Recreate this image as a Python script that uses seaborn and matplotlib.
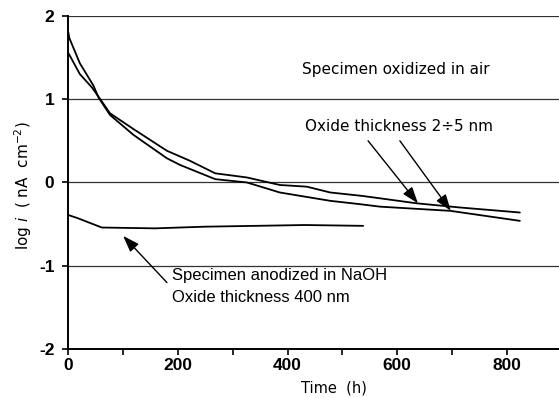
import numpy as np
import pandas as pd
import matplotlib
matplotlib.use("Agg")
import matplotlib.pyplot as plt
import seaborn as sns

# curves (time in h, log i)
time_a = [0, 2, 21, 46, 55, 76, 119, 180, 204, 268, 326, 386, 478, 532, 569, 697, 824]
logi_a = [1.80, 1.73, 1.43, 1.16, 1.02, 0.81, 0.57, 0.29, 0.21, 0.04, 0.00, -0.12, -0.22, -0.26, -0.29, -0.34, -0.46]

time_b = [0, 2, 21, 43, 55, 76, 119, 180, 222, 268, 326, 386, 435, 478, 535, 569, 636, 715, 824]
logi_b = [1.55, 1.53, 1.30, 1.14, 1.03, 0.83, 0.64, 0.38, 0.26, 0.11, 0.06, -0.03, -0.05, -0.12, -0.16, -0.19, -0.25, -0.30, -0.36]

time_naoh = [0, 18, 61, 158, 249, 341, 432, 538]
logi_naoh = [-0.39, -0.43, -0.54, -0.55, -0.53, -0.52, -0.51, -0.52]

x_ticks = [0, 200, 400, 600, 800]
y_ticks = [-2, -1, 0, 1, 2]

sns.set_style("white")
plt.rcParams['font.family'] = ['DejaVu Sans']
plt.rcParams['axes.unicode_minus'] = False
plt.rcParams['text.color'] = 'black'
plt.rcParams['axes.labelcolor'] = 'black'
plt.rcParams['xtick.color'] = 'black'
plt.rcParams['ytick.color'] = 'black'

fig = plt.figure(figsize=(5.59, 3.98), dpi=100)
ax = fig.add_axes([0.1222, 0.1224, 0.8778, 0.8382])

for t, v in [(time_a, logi_a), (time_b, logi_b), (time_naoh, logi_naoh)]:
    df = pd.DataFrame({"Time": t, "logi": v})
    sns.lineplot(data=df, x="Time", y="logi", color="black", linewidth=1.3, ax=ax)

ax.set_xlim(0, 895.4)
ax.set_ylim(-2, 2)
for yv in [-1, 0, 1, 2]:
    ax.axhline(yv, color="#333333", linewidth=0.9, zorder=0)

ax.set_xticks(x_ticks)
ax.set_xticks(np.arange(100, 900, 200), minor=True)
ax.set_yticks(y_ticks)
ax.tick_params(axis="both", which="both", direction="out", length=4, width=1.2,
               color="black", bottom=True, left=True)
ax.tick_params(axis="x", pad=2)
ax.tick_params(axis="y", pad=6)
for lab in ax.get_xticklabels() + ax.get_yticklabels():
    lab.set_fontfamily("Liberation Sans")
    lab.set_fontweight("bold")
    lab.set_fontsize(12.5)

for s in ["top", "right"]:
    ax.spines[s].set_visible(False)
for s in ["left", "bottom"]:
    ax.spines[s].set_color("black")
    ax.spines[s].set_linewidth(1.4)

ax.set_xlabel("Time  (h)", fontsize=10.5, va="center")
ax.xaxis.set_label_coords(0.541, -0.115)
ax.set_ylabel("log $\\mathit{i}$  ( nA  cm$^{-2}$)", fontsize=11, va="center")
ax.yaxis.set_label_coords(-0.092, 0.49)

ax.text(426, 1.355, "Specimen oxidized in air", fontsize=11, va="center", ha="left")
ax.text(432, 0.677, "Oxide thickness 2÷5 nm", fontsize=11, va="center", ha="left")
ax.text(188.7, -1.117, "Specimen anodized in NaOH", fontsize=12,
        family="Liberation Sans", va="center", ha="left")
ax.text(188.7, -1.376, "Oxide thickness 400 nm", fontsize=12,
        family="Liberation Sans", va="center", ha="left")

arrow = dict(arrowstyle="-|>,head_length=1.0,head_width=0.35", color="black", lw=1.0,
             shrinkA=0, shrinkB=0)
ax.annotate("", xy=(100, -0.64), xytext=(180, -1.2), arrowprops=arrow)
ax.annotate("", xy=(638, -0.25), xytext=(547, 0.50), arrowprops=arrow)
ax.annotate("", xy=(698, -0.34), xytext=(605, 0.50), arrowprops=arrow)

fig.savefig("out.png", dpi=100)
